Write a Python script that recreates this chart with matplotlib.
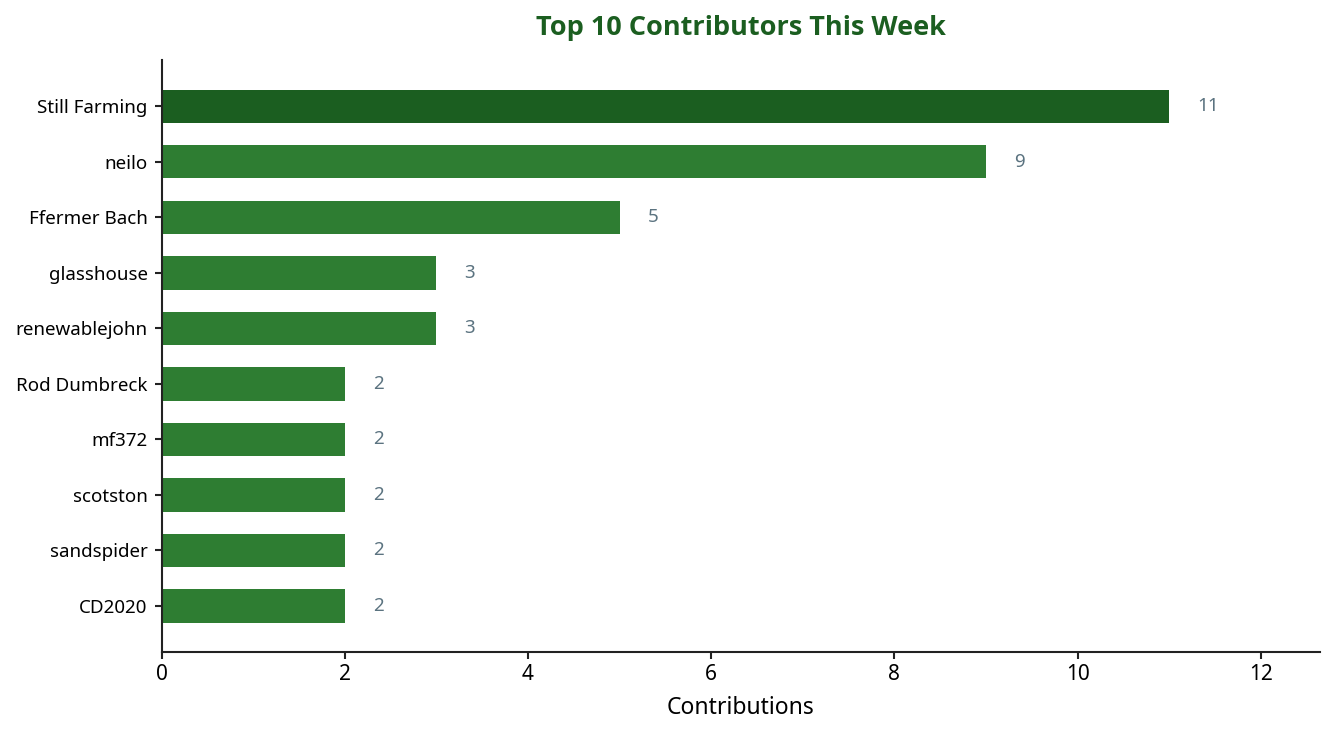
import matplotlib
matplotlib.use('Agg')
import matplotlib.pyplot as plt

names = ['Still Farming', 'neilo', 'Ffermer Bach', 'glasshouse', 'renewablejohn',
         'Rod Dumbreck', 'mf372', 'scotston', 'sandspider', 'CD2020']
counts = [11, 9, 5, 3, 3, 2, 2, 2, 2, 2]

plt.rcParams['font.family'] = ['Noto Sans', 'DejaVu Sans']

fig = plt.figure(figsize=(13.35, 7.35), dpi=100)
ax = fig.add_axes([0.121, 0.113, 0.868, 0.805])

colors = ['#1b5e20' if i == 0 else '#2e7d32' for i in range(len(names))]
ypos = list(range(len(names)))
ax.barh(ypos, counts, height=0.6, color=colors)
ax.set_yticks(ypos)
ax.set_yticklabels(names, fontsize=13.5)
ax.invert_yaxis()
ax.set_ylim(len(names) - 1 + 0.83, -0.83)

mx = max(counts)
ax.set_xlim(0, mx * 1.15)
for y, v in zip(ypos, counts):
    ax.text(v + mx * 0.028, y, str(v), va='center', ha='left', fontsize=13.5, color='#5b7380')

ax.set_xlabel('Contributions', fontsize=16.5, labelpad=8)
ax.tick_params(axis='x', labelsize=15, color='#222222', width=1.5, length=5)
ax.tick_params(axis='y', color='#222222', width=1.5, length=5, pad=5)
ax.set_title('Top 10 Contributors This Week', fontsize=19.5, fontweight='bold',
             family=['Open Sans', 'DejaVu Sans'], color='#1b5e20', pad=18)

for s in ['top', 'right']:
    ax.spines[s].set_visible(False)
for s in ['left', 'bottom']:
    ax.spines[s].set_color('#222222')
    ax.spines[s].set_linewidth(1.5)

fig.savefig('out.png', dpi=100)
